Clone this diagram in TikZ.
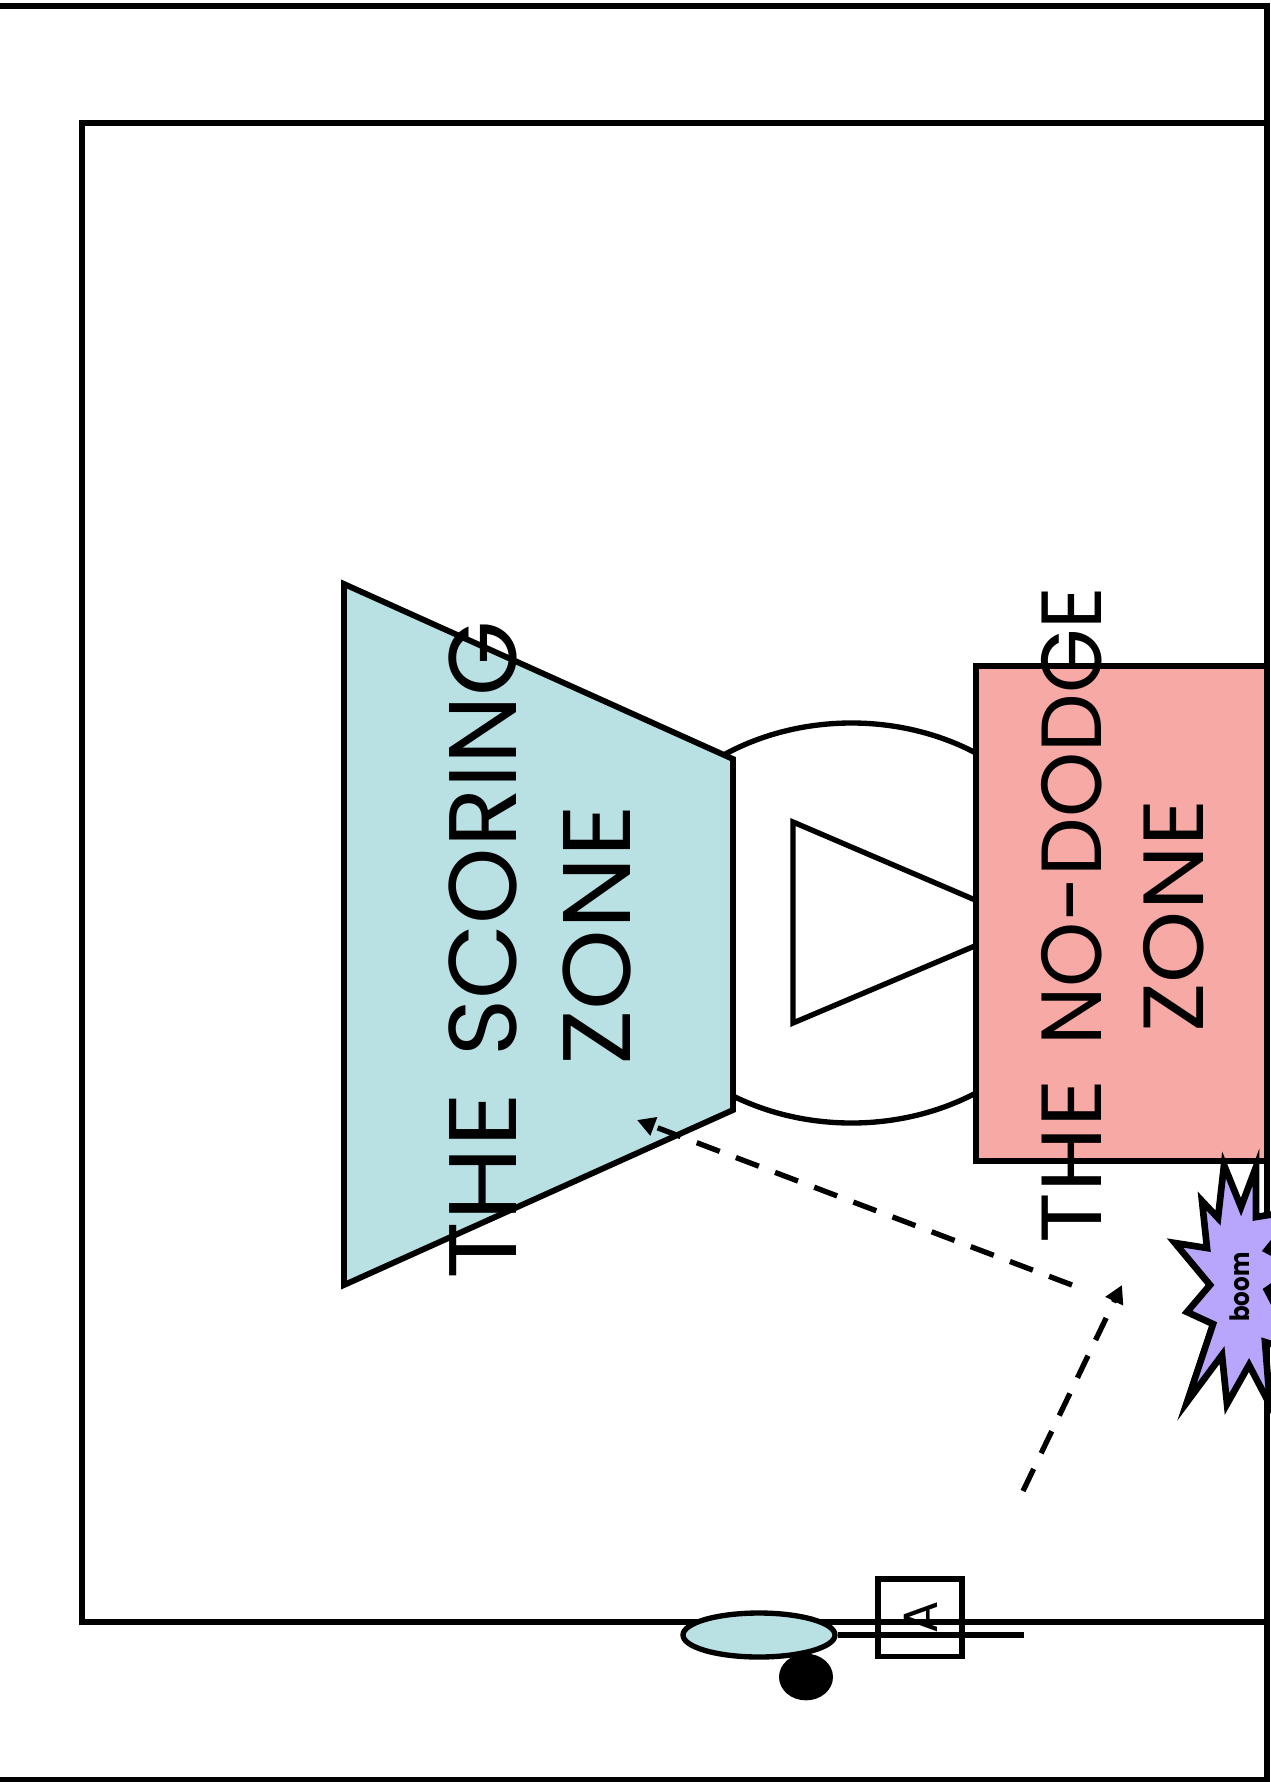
\documentclass[tikz,border=0pt]{standalone}
\usepackage{fontspec}
\setmainfont{Poppins}
\usetikzlibrary{arrows.meta,shapes.geometric}
\definecolor{scoreblue}{HTML}{B9E0E3}
\definecolor{dodgepink}{HTML}{F7A9A6}
\definecolor{boompurple}{HTML}{B7A6FB}
\newcommand{\fitword}[2]{\resizebox{#1}{\height}{#2}}
\tikzset{
	zoneline/.style={draw=black,line width=4.4pt,miter limit=10},
	thinline/.style={draw=black,line width=4pt},
	dashline/.style={thinline,dash pattern=on 18.4pt off 13pt,-{Triangle[length=13.5pt,width=14pt]}},
	scorelabel/.style={rotate=90,inner sep=0pt,font=\fontsize{72}{72}\selectfont},
	dodgelabel/.style={rotate=90,inner sep=0pt,font=\fontsize{64}{64}\selectfont}
}
\begin{document}
\begin{tikzpicture}[x=0.75pt,y=-0.75pt]
	\clip (0,0) rectangle (1271,1782);
	\fill[white] (0,0) rectangle (1271,1782);
	% Define the court
	\draw[zoneline] (0,6) -- (1267,6) -- (1267,1782);
	\draw[zoneline] (0,1780) -- (1267,1780);
	\draw[zoneline] (1267,123) -- (82,123) -- (82,1622) -- (1267,1622);
	% Add the key
	\draw[thinline] (851.5,923) ellipse (236 and 200);
	\draw[thinline] (793,822) -- (1029,923) -- (793,1023) -- cycle;
	% Create zones
	\draw[zoneline,fill=scoreblue] (344,584) -- (733,759) -- (733,1110) -- (344,1285) -- cycle;
	\draw[zoneline,fill=dodgepink] (976,666) rectangle (1267,1161);
	% Add the burst
	\draw[zoneline,line width=5pt,fill=boompurple]
		(1256,1167) -- (1241,1207) -- (1224,1165) -- (1218,1218) -- (1202,1201) -- (1207,1248)
		-- (1175,1243) -- (1210,1285) -- (1187,1312) -- (1213,1324) -- (1187,1402) -- (1222,1355)
		-- (1227,1404) -- (1249,1365) -- (1270,1405) -- (1265,1342) -- (1300,1353) -- (1267,1290)
		-- (1300,1267) -- (1267,1250) -- (1300,1210) -- (1256,1217) -- cycle;
	\node[rotate=90,inner sep=0pt,font=\fontsize{20}{20}\selectfont\bfseries] (boomlabel) at (1240,1287) {\fitword{52pt}{boom}};
	% Add labels to the zones
	\node[scorelabel] (scoreline) at (483,950) {\fitword{140pt}{THE}\hspace{27pt}\fitword{327pt}{SCORING}};
	\node[scorelabel] (scorezone) at (597,935) {\fitword{196pt}{ZONE}};
	\node[dodgelabel] (dodgeline) at (1072,915) {\fitword{123pt}{THE}\hspace{25.5pt}\fitword{344pt}{NO-DODGE}};
	\node[dodgelabel] (dodgezone) at (1174,916) {\fitword{175pt}{ZONE}};
	% Add the player
	\node[ellipse,fill=black,minimum width=40.5pt,minimum height=35pt,inner sep=0pt] (playerhead) at (806,1677) {};
	\node[ellipse,thinline,fill=scoreblue,minimum width=114pt,minimum height=33pt,inner sep=0pt] (playerbody) at (759,1635) {};
	\coordinate (armend) at (1024,1635);
	\draw[thinline] (playerbody) -- (armend);
	\node[rectangle,thinline,minimum width=63pt,minimum height=58pt,inner sep=0pt] (signbox) at (920,1617.5) {};
	\node[rotate=90,inner sep=0pt,font=\fontsize{36}{36}\selectfont] (signlabel) at (921,1617) {A};
	% Add the passes
	\coordinate (cutstart) at (1023,1491);
	\coordinate (cutend) at (1122,1285);
	\coordinate (passstart) at (1072,1285);
	\coordinate (passend) at (637,1120);
	\draw[dashline] (cutstart) -- (cutend);
	\draw[dashline] (passstart) -- (passend);
\end{tikzpicture}
\end{document}
